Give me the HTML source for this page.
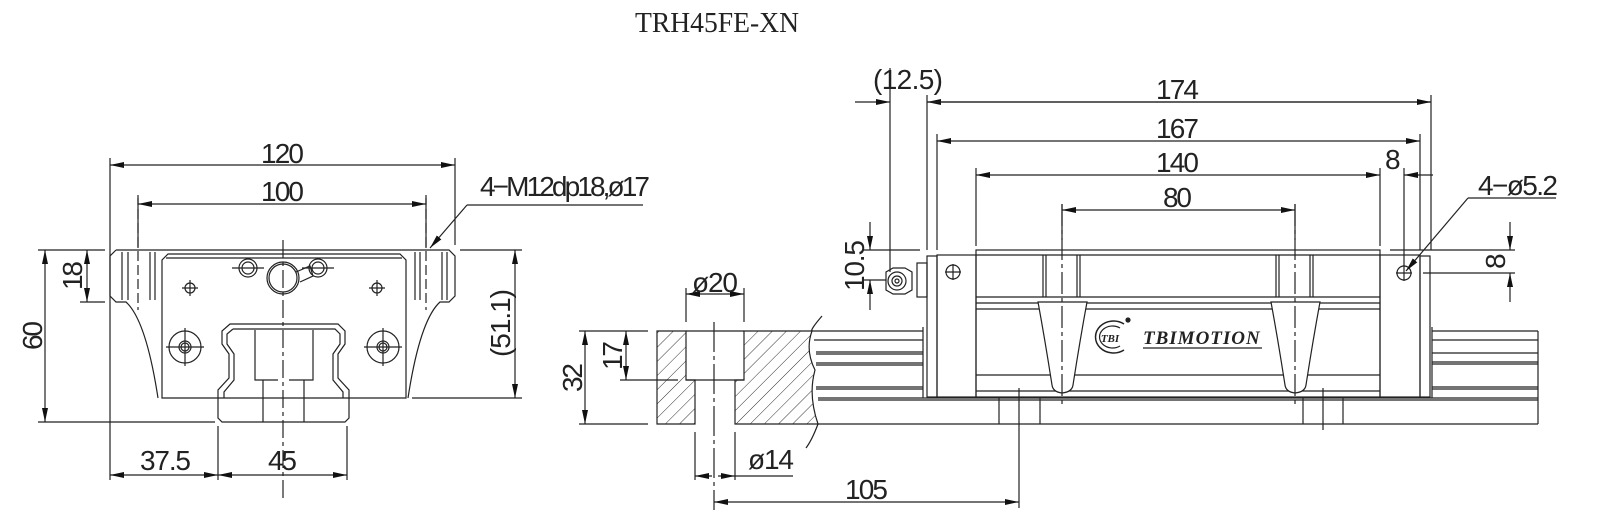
<!DOCTYPE html>
<html><head><meta charset="utf-8"><style>
html,body{margin:0;padding:0;background:#fff;}
svg{display:block;}
text{font-family:"Liberation Sans",sans-serif;fill:#222;}
</style></head><body>
<svg width="1600" height="528" viewBox="0 0 1600 528" xmlns="http://www.w3.org/2000/svg">
<defs>
<marker id="a" viewBox="0 0 14 6" refX="14" refY="3" markerWidth="14" markerHeight="6" markerUnits="userSpaceOnUse" orient="auto-start-reverse"><path d="M0,0 L14,3 L0,6 z" fill="#111"/></marker>
<pattern id="h" width="10" height="10" patternUnits="userSpaceOnUse" patternTransform="rotate(45)"><line x1="0" y1="0" x2="0" y2="10" stroke="#333" stroke-width="1"/></pattern>
</defs>
<g stroke="#222" stroke-width="1.2" fill="none">

<!-- ===== LEFT VIEW ===== -->
<path d="M116,250 L449,250 L455,256 L455,296 L449,302 L440,302 Q420,320 408,398 M116,250 L110,256 L110,296 L116,302 L126,302 Q146,320 158,398"/>
<path d="M168,254 L400,254 L406,260 L406,398 L162,398 L162,260 Z"/>
<path d="M166,258 L402,258"/>
<path d="M122,252 V300 M128,252 V300 M150,252 V300 M155,252 V300 M415,252 V300 M420,252 V300 M442,252 V300 M447,252 V300"/>
<path d="M138,195 V310 M426,195 V310" stroke-dasharray="10,4"/>
<path d="M230,324 L338,324 L345,331 L345,344 L338,354 L338,378 L349,390 L349,418 L345,422 L222,422 L218,418 L218,390 L229,378 L229,354 L222,344 L222,331 Z"/>
<path d="M233,329 L335,329 L340,334 L340,344 L333,354 L333,380 L343,392 L343,398 M233,329 L227,334 L227,344 L234,354 L234,380 L224,392 L224,398"/>
<path d="M255,330 V380 H278 M313,330 V380 H289 M263,380 V422 M304,380 V422"/>
<path d="M283,240 V500" stroke-dasharray="18,4,4,4"/>
<circle cx="248" cy="268" r="9"/><circle cx="248" cy="268" r="6"/>
<circle cx="318" cy="268" r="9"/><circle cx="318" cy="268" r="6"/>
<circle cx="283" cy="278" r="14"/><circle cx="283" cy="278" r="16"/>
<path d="M296,272 L310,266 L313,276 L300,282" />
<circle cx="190" cy="288" r="5"/><circle cx="377" cy="288" r="5"/>
<path d="M182,288 H198 M190,280 V296 M369,288 H385 M377,280 V296"/>
<circle cx="185" cy="347" r="16"/><circle cx="185" cy="347" r="6"/><circle cx="185" cy="347" r="4"/>
<circle cx="383" cy="347" r="16"/><circle cx="383" cy="347" r="6"/><circle cx="383" cy="347" r="4"/>
<path d="M166,347 H204 M185,328 V366 M364,347 H402 M383,328 V366 M232,268 H264 M302,268 H334"/>
<path d="M110,158 V480 M455,158 V245 M138,198 V248 M426,198 V248"/>
<path d="M110,165 H455" marker-start="url(#a)" marker-end="url(#a)"/>
<path d="M138,204 H426" marker-start="url(#a)" marker-end="url(#a)"/>
<path d="M38,250 H105 M80,302 H105 M38,422 H215 M460,250 H522 M412,398 H522"/>
<path d="M45,250 V422" marker-start="url(#a)" marker-end="url(#a)"/>
<path d="M87,250 V302" marker-start="url(#a)" marker-end="url(#a)"/>
<path d="M515,250 V398" marker-start="url(#a)" marker-end="url(#a)"/>
<path d="M218,426 V480 M347,426 V480"/>
<path d="M110,475 H218" marker-start="url(#a)" marker-end="url(#a)"/>
<path d="M218,475 H347" marker-start="url(#a)" marker-end="url(#a)"/>
<path d="M467,205 L430,248" marker-end="url(#a)"/>
<path d="M467,205 H643"/>

<!-- ===== MIDDLE SECTION ===== -->
<path d="M657,331 H686 V380 H695 V424 H657 Z" fill="url(#h)"/>
<path d="M744,331 H812 Q805,350 815,370 Q808,395 818,424 H735 V380 H744 Z" fill="url(#h)"/>
<path d="M686,331 H744 M686,380 H744 M822,316 Q810,330 812,331 M818,424 Q812,440 806,448"/>
<path d="M714,322 V510" stroke-dasharray="30,4,4,4"/>
<path d="M686,288 V322 M744,288 V322"/>
<path d="M686,294 H744" marker-start="url(#a)" marker-end="url(#a)"/>
<path d="M579,331 H648 M579,424 H648 M620,380 H678"/>
<path d="M585,331 V424" marker-start="url(#a)" marker-end="url(#a)"/>
<path d="M626,331 V380" marker-start="url(#a)" marker-end="url(#a)"/>
<path d="M695,432 V480 M735,432 V480"/>
<path d="M712,476 H695" marker-end="url(#a)"/>
<path d="M718,476 H735" marker-end="url(#a)"/>
<path d="M735,476 H793"/>
<path d="M714,502 H1019" marker-start="url(#a)" marker-end="url(#a)"/>
<path d="M1019,388 V508"/>

<!-- ===== RIGHT VIEW ===== -->
<path d="M812,331 H923 M814,340 H923 M816,352 H923 M816,354 H923 M816,363 H923 M816,365 H923 M816,387 H923 M816,389 H923 M818,398 H1538 M818,400 H1538 M818,424 H1538"/>
<path d="M923,327 V398"/>
<path d="M1432,331 H1538 M1432,340 H1538 M1432,353 H1538 M1432,362 H1538 M1432,364 H1538 M1432,387 H1538 M1432,389 H1538 M1538,331 V424 M1432,327 V398"/>
<path d="M999,398 V424 M1040,398 V424 M1303,398 V424 M1343,398 V424 M1323,388 V430"/>
<rect x="927" y="256" width="10" height="141"/>
<rect x="937" y="255" width="39" height="142"/>
<rect x="976" y="250" width="404" height="147"/>
<path d="M976,255 H1380 M976,297 H1380 M976,303 H1380 M976,309 H1380 M976,375 H1380 M976,391 H1380"/>
<rect x="1380" y="255" width="40" height="142"/>
<rect x="1420" y="256" width="10" height="141"/>
<rect x="917" y="263" width="10" height="34"/>
<path d="M905,268 L912,272 L912,290 L905,294 L893,294 L886,290 L886,272 L893,268 Z"/>
<circle cx="897" cy="281" r="9"/><circle cx="897" cy="281" r="5"/><circle cx="897" cy="281" r="2"/>
<circle cx="953" cy="272" r="7"/><path d="M945,272 H961 M953,264 V280"/>
<circle cx="1404" cy="273" r="7"/><path d="M1396,273 H1412 M1404,265 V281"/>
<path d="M1038,302 L1087,302 Q1080,340 1073,385 Q1072,392 1062,393 Q1053,392 1052,385 Q1045,340 1038,302 Z" fill="#fff"/>
<path d="M1271,302 L1320,302 Q1313,340 1306,385 Q1305,392 1295,393 Q1286,392 1285,385 Q1278,340 1271,302 Z" fill="#fff"/>
<path d="M1043,255 V297 M1046,255 V297 M1077,255 V297 M1080,255 V297 M1276,255 V297 M1279,255 V297 M1310,255 V297 M1313,255 V297"/>
<path d="M1062,204 V405 M1295,204 V405" stroke-dasharray="22,4,4,4"/>
<path d="M1124,324 A18,16 0 1,0 1124,350" stroke-width="1.5"/>
<path d="M1120,328 A13,11 0 1,0 1120,346"/>
<circle cx="1128" cy="320" r="2" fill="#222"/>
<path d="M1143,348 H1262"/>
<path d="M890,68 V272 M927,95 V250 M937,134 V250 M976,168 V246 M1380,168 V246 M1404,168 V266 M1420,134 V250 M1431,95 V250 M1062,204 V240 M1295,204 V240"/>
<path d="M855,102 H890" marker-end="url(#a)"/>
<path d="M1431,102 H927" marker-end="url(#a)"/>
<path d="M927,102 H1431" marker-end="url(#a)"/>
<path d="M937,141 H1420" marker-start="url(#a)" marker-end="url(#a)"/>
<path d="M976,175 H1380" marker-start="url(#a)" marker-end="url(#a)"/>
<path d="M1433,175 H1404" marker-end="url(#a)"/>
<path d="M1062,210 H1295" marker-start="url(#a)" marker-end="url(#a)"/>
<path d="M862,250 H920 M862,280 H886"/>
<path d="M870,222 V250" marker-end="url(#a)"/>
<path d="M870,310 V280" marker-end="url(#a)"/>
<path d="M1390,250 H1515 M1423,273 H1515"/>
<path d="M1510,222 V250" marker-end="url(#a)"/>
<path d="M1510,302 V273" marker-end="url(#a)"/>
<path d="M1468,198 L1406,271" marker-end="url(#a)"/>
<path d="M1468,198 H1556"/>
</g>

<!-- TEXT -->
<text x="635" y="32" font-size="28" textLength="164" lengthAdjust="spacingAndGlyphs" style="font-family:'Liberation Serif',serif">TRH45FE-XN</text>
<g font-size="28" lengthAdjust="spacingAndGlyphs">
<text x="261" y="163" textLength="43">120</text>
<text x="261" y="201" textLength="43">100</text>
<text x="480" y="196" textLength="170">4−M12dp18,ø17</text>
<text transform="translate(42,350) rotate(-90)" textLength="29">60</text>
<text transform="translate(82,290) rotate(-90)" textLength="29">18</text>
<text transform="translate(510,357) rotate(-90)" textLength="68">(51.1)</text>
<text x="140" y="470" textLength="51">37.5</text>
<text x="268" y="470" textLength="29">45</text>
<text x="692" y="292" textLength="46">ø20</text>
<text transform="translate(582,392) rotate(-90)" textLength="29">32</text>
<text transform="translate(622,370) rotate(-90)" textLength="29">17</text>
<text x="748" y="469" textLength="46">ø14</text>
<text x="845" y="499" textLength="43">105</text>
<text x="873" y="89" textLength="70">(12.5)</text>
<text x="1156" y="99" textLength="43">174</text>
<text x="1156" y="138" textLength="43">167</text>
<text x="1156" y="172" textLength="43">140</text>
<text x="1163" y="207" textLength="29">80</text>
<text x="1385" y="169" textLength="15">8</text>
<text x="1478" y="195" textLength="80">4−ø5.2</text>
<text transform="translate(864,291) rotate(-90)" textLength="51">10.5</text>
<text transform="translate(1505,269) rotate(-90)" textLength="15">8</text>
</g>
<g fill="#222">
<text x="1110" y="342" text-anchor="middle" font-size="11" style="font-family:'Liberation Serif',serif;font-style:italic;font-weight:bold">TBI</text>
<text x="1143" y="344" font-size="19" style="font-family:'Liberation Serif',serif;font-style:italic;font-weight:bold;letter-spacing:1px">TBIMOTION</text>
</g>
</svg>
</body></html>
